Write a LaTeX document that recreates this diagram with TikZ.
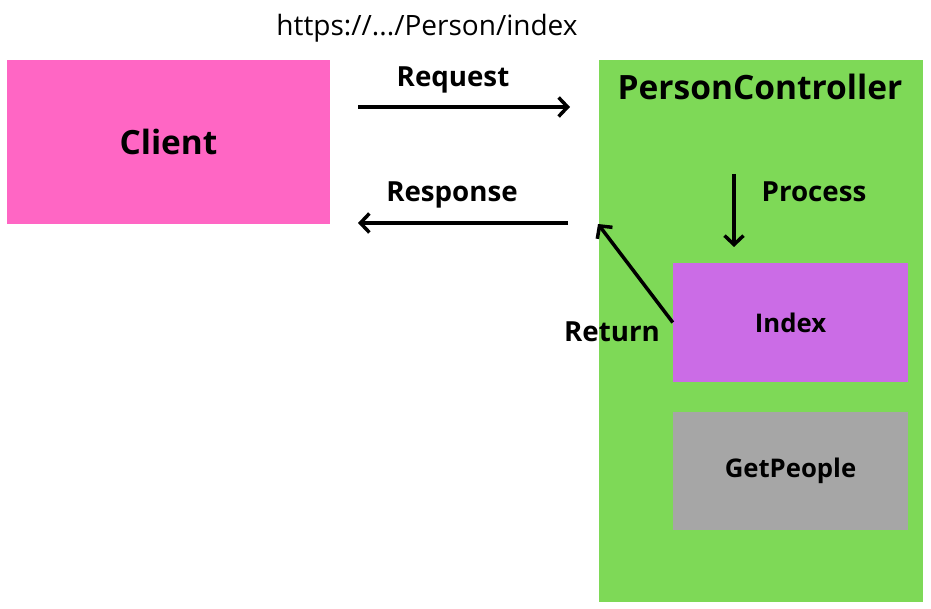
\documentclass[tikz,border=0pt]{standalone}
\usepackage{fontspec}
\setmainfont{Open Sans}
\usetikzlibrary{arrows.meta,shapes}

\begin{document}
\begin{tikzpicture}[x=1pt,y=1pt]
%
\useasboundingbox (0,0) rectangle (931,609);
%
\definecolor{cfclient}{HTML}{FF66C4}
\definecolor{cfctrl}{HTML}{7ED957}
\definecolor{cfindex}{HTML}{CB6CE6}
\definecolor{cfget}{HTML}{A6A6A6}
\definecolor{cedge}{rgb}{0.0,0.0,0.0}
%
\tikzset{
  box/.style={draw=none,shape=rectangle,inner sep=0pt,font=\bfseries\fontsize{33.4}{38}\selectfont},
  lbl/.style={inner sep=0pt,font=\bfseries\fontsize{27.7}{32}\selectfont},
  edge/.style={line width=3.5pt,color=cedge,-{Straight Barb[length=9pt,width=19pt,line width=3.5pt]}}
}
%
\node[box,fill=cfclient,minimum width=323,minimum height=164] (client) at (168.5,467) {Client};
\node[box,fill=cfctrl,minimum width=324,minimum height=542] (ctrl) at (761,278) {};
\node[box,fill=cfindex,minimum width=235,minimum height=119,font=\bfseries\fontsize{25.7}{30}\selectfont] (index) at (790.5,286.5) {Index};
\node[box,fill=cfget,minimum width=235,minimum height=118,font=\bfseries\fontsize{25.7}{30}\selectfont] (getpeople) at (790.5,138) {GetPeople};
%
\node[inner sep=0pt,font=\fontsize{28}{32}\selectfont] (url) at (427,581) {https://.../Person/index};
\node[lbl,font=\bfseries\fontsize{33.5}{38}\selectfont] (ctrllbl) at (760,522) {PersonController};
\node[lbl] (reqlbl) at (453,529) {Request};
\node[lbl] (resplbl) at (452,414) {Response};
\node[lbl] (proclbl) at (814,417) {Process};
\node[lbl] (retlbl) at (612,277) {Return};
%
\coordinate (req0) at (358,502);
\coordinate (req1) at (570,502);
\coordinate (resp0) at (568,386);
\coordinate (resp1) at (358,386);
\coordinate (proc0) at (734,435);
\coordinate (proc1) at (734,362);
\coordinate (ret1) at (598,385);
%
\draw[edge] (req0) -- (req1);
\draw[edge] (resp0) -- (resp1);
\draw[edge] (proc0) -- (proc1);
\draw[edge] (index.west) -- (ret1);
%
\end{tikzpicture}
\end{document}
